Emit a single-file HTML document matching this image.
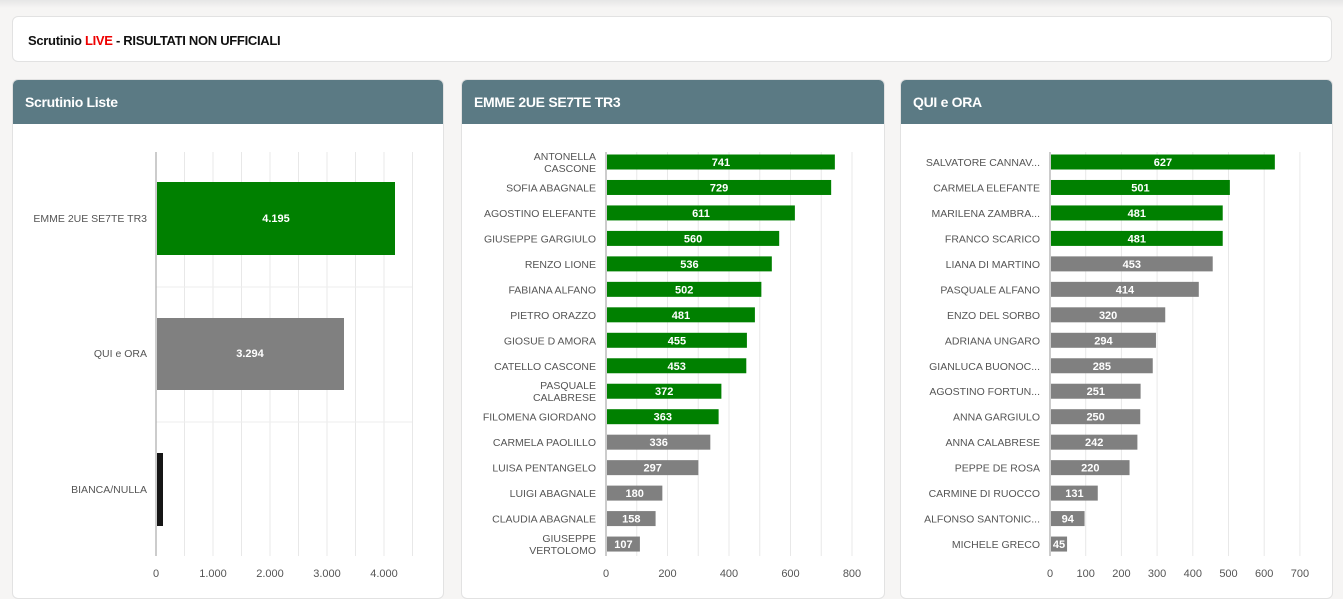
<!DOCTYPE html>
<html><head><meta charset="utf-8">
<style>
html,body{margin:0;padding:0;width:1343px;height:579px;overflow:hidden;background:#f6f5f4;font-family:"Liberation Sans",sans-serif;}
.topshadow{position:absolute;left:0;top:0;width:1343px;height:8px;background:linear-gradient(#e6e6e6,#f6f5f4);}
.hdr{position:absolute;left:12px;top:16px;width:1320px;height:46px;background:#fff;border:1px solid #e2e2e2;border-radius:6px;box-sizing:border-box;}
.hdr span{position:absolute;left:15px;top:16px;font-size:13px;font-weight:bold;color:#111;letter-spacing:-0.3px}
.panel{position:absolute;top:79px;height:520px;background:#fff;border:1px solid #e2e2e2;border-radius:6px;box-sizing:border-box;overflow:hidden}
.panel .ph{height:44px;background:#5b7a84;color:#fff;font-weight:bold;font-size:14px;line-height:44px;padding-left:12px;letter-spacing:-0.3px}
svg{position:absolute;left:0;top:0}
</style></head><body>
<div class="topshadow"></div>
<div class="hdr"><span>Scrutinio <b style="color:#e00">LIVE</b> - RISULTATI NON UFFICIALI</span></div>
<div class="panel" style="left:12px;width:432px"><div class="ph">Scrutinio Liste</div></div>
<div class="panel" style="left:461px;width:424px"><div class="ph">EMME 2UE SE7TE TR3</div></div>
<div class="panel" style="left:900px;width:433px"><div class="ph">QUI e ORA</div></div>
<svg id="s" width="1343" height="579" xmlns="http://www.w3.org/2000/svg" font-family="Liberation Sans, sans-serif"></svg>
<script>
var s=document.getElementById('s'),h='';
function L(x1,y1,x2,y2,c){h+='<line x1="'+x1+'" y1="'+y1+'" x2="'+x2+'" y2="'+y2+'" stroke="'+c+'" stroke-width="1"/>';}
function R(x,y,w,hh,c){h+='<rect x="'+x+'" y="'+y+'" width="'+w+'" height="'+hh+'" fill="'+c+'"/>';}
function T(x,y,t,a,c,sz,b){h+='<text x="'+x+'" y="'+y+'" text-anchor="'+a+'" fill="'+c+'" font-size="'+sz+'"'+(b?' font-weight="bold"':'')+'>'+t+'</text>';}
// panel 1
for(var i=1;i<=9;i++){var x=156+i*28.5;L(x,152,x,556,'#e8e8e8');}
L(156,287,412,287,'#eee');L(156,422,412,422,'#eee');
L(156,152,156,556,'#999');
R(157,182,238,73,'#008000');R(157,318,187,72,'#808080');R(157,453,6,73,'#161616');
T(276,222,'4.195','middle','#fff',11,1);T(250,357,'3.294','middle','#fff',11,1);
T(147,222,'EMME 2UE SE7TE TR3','end','#555',10.5);T(147,357,'QUI e ORA','end','#555',10.5);T(147,493,'BIANCA/NULLA','end','#555',10.5);
['0','1.000','2.000','3.000','4.000'].forEach(function(t,i){T(156+i*57,577,t,'middle','#555',11);});
function panel(x0,sc,step,n,max,names,vals,ng){
 for(var i=1;i<=n;i++){var x=x0+i*step;L(x,152,x,556,'#e8e8e8');}
 L(x0,152,x0,556,'#999');
 for(var i=0;i<vals.length;i++){
  var cy=162+i*25.47,w=vals[i]*sc;
  R(x0+1,cy-7.5,w,15,i<ng?'#008000':'#808080');
  T(x0+1+w/2,cy+4,vals[i],'middle','#fff',11,1);
  var nm=names[i];
  if(nm.indexOf('|')>=0){var p=nm.split('|');T(x0-10,cy-2,p[0],'end','#555',10.5);T(x0-10,cy+10,p[1],'end','#555',10.5);}
  else T(x0-10,cy+4,nm,'end','#555',10.5);
 }
 for(var v=0;v<=max;v+=200/ (step*2>60?2:1)){}
}
panel(606,0.3075,30.75,8,0,
['ANTONELLA|CASCONE','SOFIA ABAGNALE','AGOSTINO ELEFANTE','GIUSEPPE GARGIULO','RENZO LIONE','FABIANA ALFANO','PIETRO ORAZZO','GIOSUE D AMORA','CATELLO CASCONE','PASQUALE|CALABRESE','FILOMENA GIORDANO','CARMELA PAOLILLO','LUISA PENTANGELO','LUIGI ABAGNALE','CLAUDIA ABAGNALE','GIUSEPPE|VERTOLOMO'],
[741,729,611,560,536,502,481,455,453,372,363,336,297,180,158,107],11);
[0,200,400,600,800].forEach(function(v){T(606+v*0.3075,577,v,'middle','#555',11);});
panel(1050,0.357,35.7,7,0,
['SALVATORE CANNAV...','CARMELA ELEFANTE','MARILENA ZAMBRA...','FRANCO SCARICO','LIANA DI MARTINO','PASQUALE ALFANO','ENZO DEL SORBO','ADRIANA UNGARO','GIANLUCA BUONOC...','AGOSTINO FORTUN...','ANNA GARGIULO','ANNA CALABRESE','PEPPE DE ROSA','CARMINE DI RUOCCO','ALFONSO SANTONIC...','MICHELE GRECO'],
[627,501,481,481,453,414,320,294,285,251,250,242,220,131,94,45],4);
[0,100,200,300,400,500,600,700].forEach(function(v){T(1050+v*0.357,577,v,'middle','#555',11);});
s.innerHTML=h;
</script>
</body></html>
